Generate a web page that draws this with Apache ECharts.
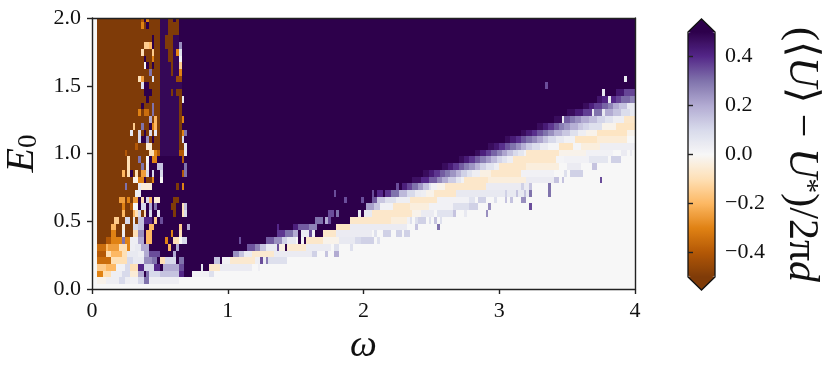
<!DOCTYPE html>
<html><head><meta charset="utf-8">
<script src="https://cdn.jsdelivr.net/npm/echarts@6/dist/echarts.min.js"></script>
<style>html,body{margin:0;padding:0;background:#fff}#c{width:831px;height:374px}</style>
</head><body><div id="c"></div>
<script>
const P=.5,B=-.5,p=.48;
// each row: pairs of (first column, value); a run lasts until the next pair. Row 0 is the lowest.
const r00=[0,0];
const r01=[0,0,2,-.02,5,.03,10,.1,12,.03,14,.02,17,.1,19,.3,21,.03,32,0];
const r02=[0,0,2,-.3,4,-.1,7,.03,11,.1,14,-.05,17,.2,19,P,20,.3,21,.1,25,.15,32,.4,34,P,37,.02,43,.08,45,0];
const r03=[0,0,2,-.15,5,-.2,9,.02,12,.1,14,-.1,17,.4,19,.1,23,.4,25,P,26,.2,32,.35,34,P,40,.05,41,P,43,-.07,47,.04,59,0,61,.03,62,0];
const r04=[0,0,2,-.35,7,-.1,13,.1,15,.05,19,.25,22,.3,24,P,25,-.1,27,.1,31,P,32,.3,34,P,45,.15,47,P,48,.02,51,-.06,60,.03,62,.35,63,.03,64,.28,65,.08,72,0];
const r05=[0,0,2,-.4,5,-.1,7,-.2,11,-.1,13,.05,17,.03,19,.2,21,.35,25,P,30,.2,31,P,52,.25,54,.15,56,.04,59,-.06,67,.04,81,.12,83,0,86,.15,87,0,89,.2,91,0];
const r06=[0,0,2,-.35,5,-.2,6,-.25,10,-.1,13,-.3,14,.03,16,.05,18,.2,21,P,28,-.2,29,P,31,.2,32,P,57,.34,60,.27,62,.15,64,.05,68,.35,69,-.03,71,P,72,-.06,79,.04,88,0,89,.08,91,0,95,.08,96,0];
const r07=[0,0,2,B,5,-.4,7,-.3,11,.3,12,-.3,14,.03,17,.2,19,P,20,-.2,22,P,27,-.3,28,P,30,-.1,32,0,33,.1,35,P,54,.35,55,P,64,.33,67,.25,70,.12,72,.05,75,0,76,P,77,0,78,P,79,-.07,85,-.02,91,.05,97,.1,99,.12,104,0,105,.08,106,0];
const r08=[0,0,2,B,7,-.3,9,B,11,.03,12,B,15,-.1,17,.25,19,P,20,-.2,22,P,29,-.3,30,P,32,-.1,33,P,68,.38,71,.3,74,.2,76,P,77,.04,80,.35,81,.02,82,P,85,-.07,90,.04,103,0,104,.08,105,0,107,.12,110,0,112,.12,114,0,115,.12,117,0];
const r09=[0,0,2,B,7,-.2,9,B,11,-.05,12,B,15,.1,17,.15,19,P,21,-.2,23,P,32,-.15,33,P,35,.2,36,P,68,.4,69,P,74,.42,76,.33,80,.27,83,P,90,-.08,95,.04,116,0,119,.15,120,0,127,.3,128,0];
const r10=[0,0,2,B,8,-.15,10,B,12,.1,14,B,15,.05,16,B,17,.15,19,.4,22,P,23,-.15,24,P,25,.35,26,P,82,.3,85,P,86,.2,87,.35,88,P,95,-.07,110,-.04,116,.02,117,.08,118,0,119,.08,120,.12,123,0,124,.08,125,0,126,.15,127,0,128,.08,129,0];
const r11=[0,0,2,B,11,-.2,12,B,15,-.2,16,-.1,17,.1,18,B,19,-.1,20,P,21,.1,22,P,24,.05,25,P,30,B,31,P,33,-.1,34,.1,35,P,87,.35,89,P,90,.3,91,P,98,.05,99,P,100,.05,103,-.07,118,-.02,121,.04,126,0,127,.07,133,.15,134,0,137,.05,138,0,145,.25,146,0];
const r12=[0,0,2,B,11,-.3,12,B,14,-.4,15,0,17,P,18,.1,20,P,21,.2,22,P,23,.3,24,P,29,B,31,P,33,-.1,34,.15,35,P,101,.22,104,.14,106,.02,111,-.07,117,-.04,124,.02,133,.08,139,.12,142,0,146,.25,147,0,161,.35,162,0];
const r13=[0,0,2,B,10,-.25,12,B,13,-.3,14,B,15,-.25,17,P,18,-.1,19,P,20,.1,21,-.2,22,P,23,-.05,25,P,30,B,32,P,93,.35,94,P,99,.35,100,P,103,.33,105,.14,108,.08,112,.03,117,-.07,127,.02,139,.07,141,0,142,.12,145,0,148,.08,149,0,152,.15,153,0,154,.15,155,0,158,.25,160,0];
const r14=[0,0,2,B,16,.03,18,P,89,.35,90,P,103,.35,104,P,105,.4,107,P,108,.38,110,.3,113,.17,116,.1,119,.04,121,.03,123,-.02,126,-.07,134,.05,152,.12,153,.05,156,.15,157,.05,159,.15,160,.05,161,.3,162,0,168,.3,169,0];
const r15=[0,0,2,B,12,.3,13,B,17,.05,18,-.05,22,P,31,B,32,P,33,-.3,34,P,112,.35,113,P,114,.42,116,.36,118,.3,120,.23,122,.15,124,.07,125,.02,127,-.02,130,-.07,145,.04,158,.12,159,.04,161,.15,162,0,168,.3,169,0];
const r16=[0,0,2,B,15,-.02,17,-.3,19,P,20,B,22,-.3,23,P,25,0,26,P,118,.46,121,.4,124,.33,127,.26,129,.2,131,.13,134,.06,136,.02,137,-.07,146,-.04,160,.04,170,.15,172,0,173,.15,174,0,187,.35,188,0];
const r17=[0,0,2,B,11,-.2,12,B,13,-.1,14,P,15,B,16,-.1,17,B,18,-.25,20,.1,21,P,22,.1,23,P,25,.1,26,P,33,-.4,34,.3,35,P,122,.47,124,.43,126,.38,128,.33,130,.29,132,.24,134,.18,136,.12,138,.07,140,.03,143,-.03,147,-.07,158,.02,170,0,174,.08,175,0,176,.12,181,0];
const r18=[0,0,2,B,13,-.1,14,B,18,.3,19,B,20,.03,21,P,24,.15,26,P,34,.3,35,P,129,.47,131,.43,133,.38,135,.33,137,.28,139,.24,141,.18,143,.12,145,.07,148,.03,150,-.07,160,-.04,172,0,175,.04,180,0,184,.15,186,0];
const r19=[0,0,2,B,13,-.1,14,B,17,.3,18,B,20,0,21,P,22,-.3,23,-.3,24,P,33,-.4,34,P,135,.47,137,.43,139,.38,141,.33,143,.28,145,.23,147,.17,149,.11,151,.07,153,.03,155,-.07,171,.01,174,.02,183,.06,190,0,191,.12,195,0];
const r20=[0,0,2,B,12,-.4,13,B,21,-.1,23,-.3,24,-.4,25,p,32,-.4,34,.05,35,P,141,.47,143,.42,145,.37,147,.32,149,.27,151,.21,153,.15,155,.1,157,.06,159,.02,160,-.07,172,-.02,182,.02,192,0,195,.04,197,0,198,.04,199,0];
const r21=[0,0,2,B,16,-.4,17,B,20,-.05,22,B,25,p,32,B,34,.05,35,P,146,.47,148,.44,150,.39,152,.34,154,.3,156,.25,158,.19,160,.13,162,.09,165,.04,168,.01,172,-.08,177,.01,180,-.04,187,.03];
const r22=[0,0,2,B,17,.1,18,P,20,.25,21,B,22,P,23,B,25,p,32,B,33,.1,34,P,152,.47,154,.43,156,.39,158,.34,160,.3,162,.26,164,.21,166,.15,168,.1,171,.05,174,.02,178,-.08,186,-.05,197,0];
const r23=[0,0,2,B,14,.05,15,B,17,.1,18,B,19,P,20,B,21,.1,22,B,23,.05,24,B,25,p,32,B,33,-.3,34,.3,35,P,158,.47,160,.43,162,.39,164,.34,166,.3,168,.25,170,.19,173,.14,176,.08,179,.03,182,-.02,186,-.08,197,-.02];
const r24=[0,0,2,B,15,-.15,16,B,18,.3,19,B,21,P,22,-.3,23,-.2,24,B,25,p,32,B,33,P,164,.47,166,.43,168,.38,170,.33,172,.28,174,.24,176,.19,179,.14,181,.11,183,.08,188,-.02,193,-.08];
const r25=[0,0,2,B,21,.2,22,B,23,-.2,24,B,25,p,32,B,33,-.3,34,P,170,.47,173,.05,174,.33,176,.29,178,.25,180,.2,183,.16,186,.11,189,.07,192,.03,196,-.07];
const r26=[0,0,2,B,17,-.3,18,B,19,-.35,21,B,22,.3,23,B,25,p,32,B,33,P,175,.47,178,.43,181,.37,184,.05,185,.3,188,.05,189,.2,192,.15,195,.09,198,.05];
const r27=[0,0,2,B,18,P,19,B,22,.3,23,B,25,p,32,B,33,P,181,.47,183,.42,185,.37,188,.32,190,.27,192,.2,194,.15,197,.05];
const r28=[0,0,2,B,20,P,21,B,25,p,32,B,33,.05,34,P,186,.45,188,.41,190,.05,191,.4,193,.36,195,.31,198,.27];
const r29=[0,0,2,B,19,P,22,B,25,p,29,B,30,p,31,B,33,P,188,.05,189,P,193,.44,196,.36];
const r30=[0,0,2,B,18,.08,19,P,21,B,25,p,33,P,167,.35,168,P];
const r31=[0,0,2,B,17,-.1,18,-.25,19,B,22,.08,23,B,25,p,31,-.45,33,P,196,.05,197,P];
const r32=[0,0,2,B,21,.3,22,B,25,p,29,B,30,p,32,-.3,33,P];
const r33=[0,0,2,B,19,0,20,P,21,B,22,P,23,B,25,p,29,B,30,p,32,-.15,33,P];
const r34=[0,0,2,B,19,P,20,B,22,-.3,23,B,25,p,28,B,30,p,32,.02,33,P];
const r35=[0,0,2,B,18,-.1,19,B,22,-.15,23,B,25,p,28,B,30,p,31,-.3,32,.08,33,P];
const r36=[0,0,2,B,19,-.15,21,-.2,22,P,23,B,25,p,27,B,30,p,32,.25,33,P];
const r37=[0,0,2,B,22,P,23,B,25,p,27,B,30,p,32,P];
const r38=[0,0,2,B,25,p,28,B,32,P];
const r39=[0,0,2,B,18,-.3,19,B,20,P,21,B,25,p,28,B,32,P];
const r40=[0,0,2,B,18,-.4,19,P,20,-.3,21,B,25,p,28,B,30,P,31,B,32,P];
const ROWS=[r00,r01,r02,r03,r04,r05,r06,r07,r08,r09,r10,r11,r12,r13,r14,r15,r16,r17,r18,r19,r20,r21,r22,r23,r24,r25,r26,r27,r28,r29,r30,r31,r32,r33,r34,r35,r36,r37,r38,r39,r40];
const COLUMNS=200;
const OMEGA_STEP=.02, E_STEP=.0496, E_OFFSET=.036;
const OMEGA_TICKS=[0,1,2,3,4];
const E_TICKS=[0,.5,1,1.5,2];
const BAR_TICKS=[-.4,-.2,0,.2,.4];
const PALETTE=['#7f3b08','#b35806','#e08214','#fdb863','#fee0b6','#f7f7f7','#d8daeb','#b2abd2','#8073ac','#542788','#2d004b'];
const FONT='"Liberation Serif",serif';

const cells=[];
ROWS.forEach((row,k)=>{
  for(let i=0;i<row.length;i+=2){
    const end=i+2<row.length?row[i+2]:COLUMNS;
    cells.push([row[i],end,k,row[i+1]]);
  }
});
const line={lineStyle:{color:'#222',width:1.4}};
const chart=echarts.init(document.getElementById('c'),null,{renderer:'canvas'});
const t={fontFamily:FONT,fontSize:42,color:'#111'};
chart.setOption({
  animation:false,
  grid:[{left:92,top:18,width:543,height:271,outerBoundsMode:'none'},{left:688,top:32,width:27,height:245,outerBoundsMode:'none'}],
  xAxis:[
    {gridIndex:0,type:'value',min:0,max:4,position:'bottom',z:5,splitLine:{show:false},
     axisLine:{onZero:false,...line},axisTick:{length:5,...line,customValues:OMEGA_TICKS},
     axisLabel:{customValues:OMEGA_TICKS,fontFamily:FONT,fontSize:22,color:'#111',margin:11,formatter:v=>String(v)},
     name:'ω',nameLocation:'middle',nameGap:38,nameTextStyle:{fontFamily:FONT,fontStyle:'italic',fontSize:38,color:'#111'}},
    {gridIndex:0,type:'value',min:0,max:4,position:'top',z:5,splitLine:{show:false},
     axisLine:{onZero:false,...line},axisTick:{show:false},axisLabel:{show:false}},
    {gridIndex:1,type:'value',min:0,max:1,show:false}
  ],
  yAxis:[
    {gridIndex:0,type:'value',min:0,max:2,position:'left',z:5,splitLine:{show:false},
     axisLine:{onZero:false,...line},axisTick:{length:5,...line,customValues:E_TICKS},
     axisLabel:{customValues:E_TICKS,fontFamily:FONT,fontSize:22,color:'#111',margin:11,formatter:v=>v.toFixed(1)},
     name:'{e|E}{s|0}',nameLocation:'middle',nameRotate:90,nameGap:43,
     nameTextStyle:{rich:{e:{fontFamily:FONT,fontStyle:'italic',fontSize:40,color:'#111'},s:{fontFamily:FONT,fontSize:27,color:'#111',verticalAlign:'bottom',padding:[14,0,0,0]}}}},
    {gridIndex:0,type:'value',min:0,max:2,position:'right',z:5,splitLine:{show:false},
     axisLine:{onZero:false,...line},axisTick:{show:false},axisLabel:{show:false}},
    {gridIndex:1,type:'value',min:-.5,max:.5,position:'right',z:6,splitLine:{show:false},
     axisLine:{show:false},axisTick:{length:5,...line,customValues:BAR_TICKS},
     axisLabel:{customValues:BAR_TICKS,fontFamily:FONT,fontSize:22,color:'#111',margin:10,
       formatter:v=>(v<0?'−':'')+Math.abs(v).toFixed(1)},
     name:'{r|(⟨}{t|U}{r|⟩ − }{t|U}{u|*}{r|)/2π}{t|d}',nameLocation:'middle',nameRotate:-90,nameGap:65,
     nameTextStyle:{rich:{r:t,t:{...t,fontStyle:'italic'},u:{fontFamily:FONT,fontSize:30,color:'#111',verticalAlign:'top'}}}}
  ],
  visualMap:{type:'continuous',min:-.5,max:.5,seriesIndex:0,dimension:3,show:true,left:688,top:32,itemWidth:27,itemHeight:245,padding:0,
    text:['',''],calculable:false,hoverLink:false,realtime:false,showLabel:false,inRange:{color:PALETTE},textStyle:{fontSize:0}},
  series:[
    {type:'custom',xAxisIndex:0,yAxisIndex:0,clip:true,silent:true,progressive:0,data:cells,
     dimensions:['from','to','row','value'],encode:{x:[0,1],y:2},
     renderItem(params,api){
       const k=api.value(2);
       const e0=k===0?0:E_OFFSET+E_STEP*(k-1), e1=E_OFFSET+E_STEP*k;
       const a=api.coord([api.value(0)*OMEGA_STEP,e0]), b=api.coord([api.value(1)*OMEGA_STEP,Math.min(e1,2)]);
       const x=Math.round(a[0]),w=Math.round(b[0])-x,y=Math.round(b[1]),h=Math.round(a[1])-y;
       return {type:'rect',shape:{x,y,width:w,height:h},style:{fill:api.visual('color')}};
     }},
    {type:'custom',xAxisIndex:2,yAxisIndex:2,clip:false,silent:true,z:6,data:[[0]],encode:{y:0},
     renderItem(params,api){
       const TIP=.553,c=v=>api.coord(v);
       const tl=c([0,.5]),tr=c([1,.5]),bl=c([0,-.5]),br=c([1,-.5]),tt=c([.5,TIP]),bt=c([.5,-TIP]);
       return {type:'group',children:[
         {type:'polygon',shape:{points:[tl,tt,tr]},style:{fill:PALETTE[10]}},
         {type:'polygon',shape:{points:[bl,bt,br]},style:{fill:PALETTE[0]}},
         {type:'polygon',shape:{points:[tl,tt,tr,br,bt,bl]},style:{fill:'none',stroke:'#111',lineWidth:1.3}}
       ]};
     }}
  ]
});
</script></body></html>
